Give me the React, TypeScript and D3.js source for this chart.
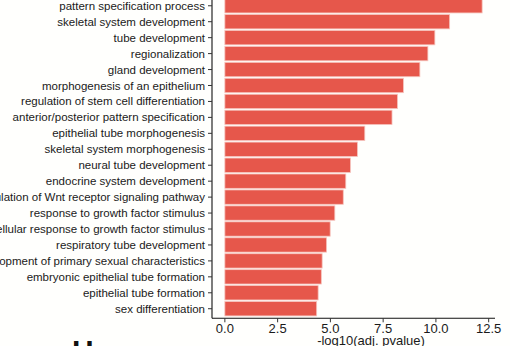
import React from "react";
import * as d3 from "d3";

const categories = [
  "pattern specification process",
  "skeletal system development",
  "tube development",
  "regionalization",
  "gland development",
  "morphogenesis of an epithelium",
  "regulation of stem cell differentiation",
  "anterior/posterior pattern specification",
  "epithelial tube morphogenesis",
  "skeletal system morphogenesis",
  "neural tube development",
  "endocrine system development",
  "regulation of Wnt receptor signaling pathway",
  "response to growth factor stimulus",
  "cellular response to growth factor stimulus",
  "respiratory tube development",
  "development of primary sexual characteristics",
  "embryonic epithelial tube formation",
  "epithelial tube formation",
  "sex differentiation",
];

const values = [
  12.19, 10.65, 9.95, 9.62, 9.24, 8.46, 8.18, 7.92, 6.63, 6.28, 5.95, 5.73,
  5.61, 5.21, 4.99, 4.82, 4.61, 4.57, 4.42, 4.35,
];

const xTicks = [0, 2.5, 5, 7.5, 10, 12.5];
const xTitle = "-log10(adj. pvalue)";
const panelLabel = "H";

const W = 510;
const H = 346;
const left = 212;
const right = 495;
const top = -3.8;
const bottom = 318.3;
const font = "'Liberation Sans', Arial, Helvetica, sans-serif";

export default function App() {
  const xmax = d3.max(values) as number;
  const pad = xmax * 0.05;
  const x = d3.scaleLinear().domain([-pad, xmax + pad]).range([left, right]);
  const y = d3
    .scaleBand<string>()
    .domain(categories)
    .range([top, bottom])
    .paddingInner(0.1)
    .paddingOuter(0.15);

  return (
    <div style={{ position: "absolute", left: 0, top: 0 }}>
      <svg width={W} height={H} style={{ display: "block", background: "#fffffd" }}>
        {categories.map((c, i) => (
          <rect
            key={c}
            x={x(0)}
            y={y(c)}
            width={x(values[i]) - x(0)}
            height={y.bandwidth()}
            fill="#e6574b"
            stroke="#f6c4bd"
            strokeWidth={0.8}
          />
        ))}
        {/* y axis */}
        <line x1={left} x2={left} y1={top} y2={bottom} stroke="#111" strokeWidth={1.1} />
        {categories.map((c) => {
          const cy = (y(c) as number) + y.bandwidth() / 2;
          return (
            <g key={"t" + c}>
              <line x1={left - 4} x2={left} y1={cy} y2={cy} stroke="#333" strokeWidth={1} />
              <text
                x={left - 7}
                y={cy}
                dy="0.35em"
                textAnchor="end"
                fontFamily={font}
                fontSize={11.5}
                fill="#1a1a1a"
              >
                {c}
              </text>
            </g>
          );
        })}
        {/* x axis */}
        <line x1={left} x2={right} y1={bottom} y2={bottom} stroke="#111" strokeWidth={1.1} />
        {xTicks.map((t) => (
          <g key={"x" + t}>
            <line x1={x(t)} x2={x(t)} y1={bottom} y2={bottom + 4} stroke="#333" strokeWidth={1} />
            <text
              x={x(t)}
              y={bottom + 15}
              textAnchor="middle"
              fontFamily={font}
              fontSize={13}
              fill="#1a1a1a"
            >
              {t.toFixed(1)}
            </text>
          </g>
        ))}
        <text
          x={371}
          y={345}
          textAnchor="middle"
          fontFamily={font}
          fontSize={13}
          fill="#1a1a1a"
        >
          {xTitle}
        </text>
        <text x={72} y={361} fontFamily={font} fontSize={30} fontWeight="bold" fill="#111">
          {panelLabel}
        </text>
      </svg>
    </div>
  );
}
